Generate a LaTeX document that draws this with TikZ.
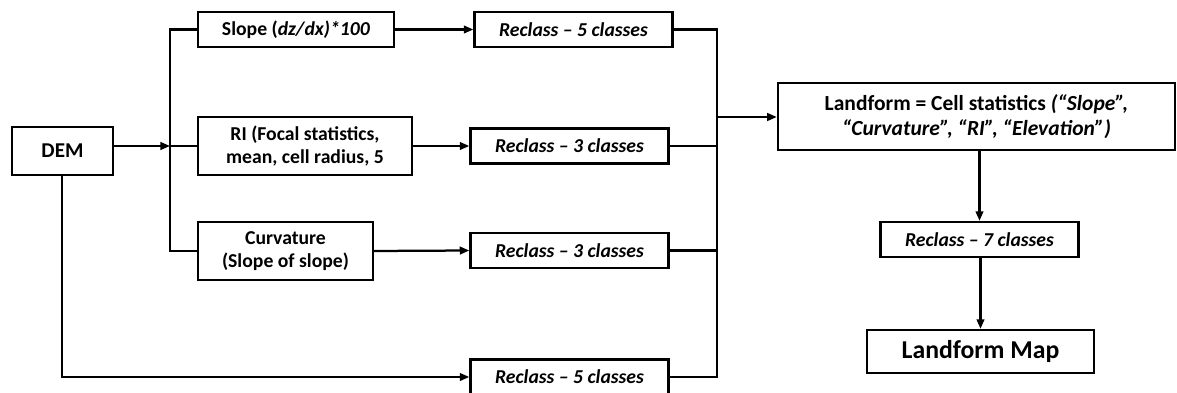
\documentclass[tikz,border=0pt]{standalone}
\usepackage{fontspec}
\setmainfont{Carlito}
\usetikzlibrary{arrows.meta,positioning,calc}

\begin{document}
\begin{tikzpicture}[x=0.025cm,y=-0.025cm,
 box/.style={draw,line width=1.6pt,inner sep=0pt,align=center,font=\bfseries\fontsize{14}{16.5}\selectfont},
 rc/.style={box,minimum width=4.95cm,minimum height=0.875cm,font=\bfseries\itshape\fontsize{14}{16.5}\selectfont},
 link/.style={line width=1.6pt},
 arr/.style={link,-{Triangle[length=2.4mm,width=1.9mm]}}]
\useasboundingbox (0,0) rectangle (1177,393);
% input and first step
\node [box,minimum width=2.525cm,minimum height=1.2cm,font=\bfseries\fontsize{15}{18}\selectfont] (dem) at (62.5,151) {DEM};
\node [box,minimum width=4.9cm,minimum height=0.875cm] (slope) at (296,29.5) {Slope (\textit{dz/dx)*100}};
\node [box,minimum width=5.35cm,minimum height=1.45cm] (ri) at (305,146) {RI (Focal statistics,\\ mean, cell radius, 5};
\node [box,minimum width=4.375cm,minimum height=1.45cm] (curv) at (285.5,251) {Curvature\\ (Slope of slope)};
% reclass
\node [rc] (rslope) at (573.5,29.5) {Reclass -- 5 classes};
\node [rc] (rri) at (569.5,146) {Reclass -- 3 classes};
\node [rc] (rcurv) at (569.5,250.5) {Reclass -- 3 classes};
\node [rc] (rdem) at (569.5,377) {Reclass -- 5 classes};
% combine
\node [box,minimum width=9.925cm,minimum height=1.675cm,font=\bfseries\fontsize{15.3}{18}\selectfont] (land) at (976.5,116.5)
 {Landform = Cell statistics \textit{(“Slope”,}\\ \textit{“Curvature”, “RI”, “Elevation”)}};
\node [rc] (rland) at (979.5,239.5) {Reclass -- 7 classes};
\node [box,minimum width=5.675cm,minimum height=1.075cm,font=\bfseries\fontsize{18.3}{21}\selectfont] (map) at (980.5,351.5) {Landform Map};
\coordinate (split) at (170,146);
\coordinate (merge) at (717,117);
% connectors
\draw [arr] (split -| dem.east) -- (split);
\draw [link] (slope.west) -| (split) |- (curv.west);
\draw [link] (split) -- (ri.west);
\draw [arr] (dem.south -| 62,0) |- (rdem.west);
\draw [arr] (slope.east) -- (rslope.west);
\draw [arr] (ri.east) -- (rri.west);
\draw [arr] (curv.east) -- (rcurv.west);
\draw [link] (rslope.east) -| (merge) |- (rdem.east);
\draw [link] (rri.east) -- (rri.east -| merge);
\draw [link] (rcurv.east) -- (rcurv.east -| merge);
\draw [arr] (merge) -- (merge -| land.west);
\draw [arr] (land.south -| rland.north) -- (rland.north);
\draw [arr] (rland.south -| map.north) -- (map.north);
\end{tikzpicture}
\end{document}
